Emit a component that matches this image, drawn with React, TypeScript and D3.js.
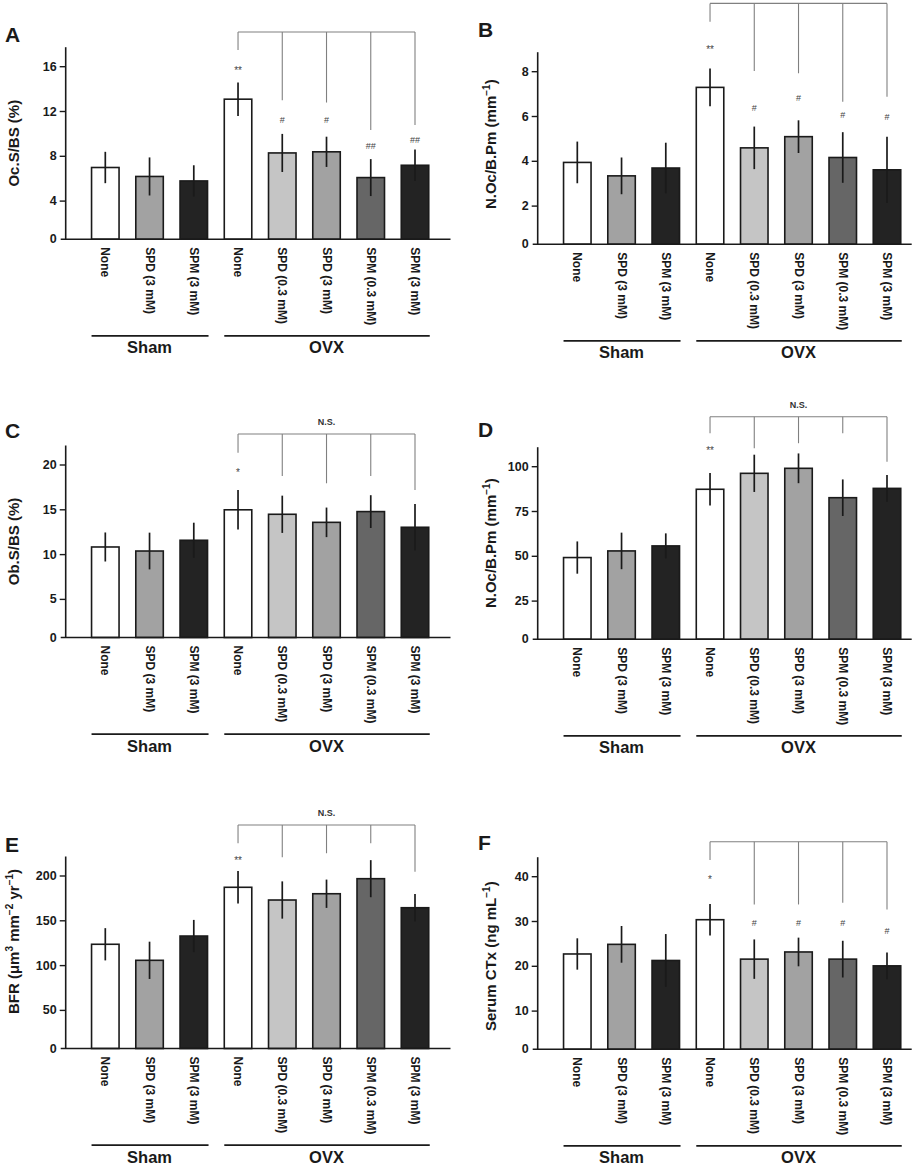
import React from "react";
import * as d3 from "d3";

// ---------- categories ----------
const treatments = ["None", "SPD (3 mM)", "SPM (3 mM)", "None", "SPD (0.3 mM)", "SPD (3 mM)", "SPM (0.3 mM)", "SPM (3 mM)"];
const categoryIds = ["sham-none", "sham-spd3", "sham-spm3", "ovx-none", "ovx-spd03", "ovx-spd3", "ovx-spm03", "ovx-spm3"];
const groupNames = ["Sham", "OVX"];
const groupMembers = [[0, 1, 2], [3, 4, 5, 6, 7]];

// ---------- A: Oc.S/BS ----------
const ocsValues = [7.0, 6.2, 5.8, 13.1, 8.3, 8.4, 6.1, 7.2];
const ocsErrors = [1.4, 1.7, 1.4, 1.5, 1.7, 1.35, 1.65, 1.4];
const ocsTicks = [0, 4, 8, 12, 16];
const ocsMarks = ["", "", "", "**", "#", "#", "##", "##"];
const ocsMarkLevels = [0, 0, 0, 15.9, 11.25, 11.25, 8.95, 9.45];
const ocsBracketTop = 19.1;
const ocsBracketEnds = [17.5, 13.0, 12.8, 10.35, 10.8];

// ---------- B: N.Oc/B.Pm ----------
const nocValues = [3.95, 3.35, 3.7, 7.3, 4.6, 5.1, 4.17, 3.62];
const nocErrors = [0.93, 0.82, 1.13, 0.84, 0.95, 0.73, 1.13, 1.48];
const nocTicks = [0, 2, 4, 6, 8];
const nocMarks = ["", "", "", "**", "#", "#", "#", "#"];
const nocMarkLevels = [0, 0, 0, 9.12, 6.39, 6.84, 6.07, 5.99];
const nocBracketTop = 11.05;
const nocBracketEnds = [10.23, 8.03, 7.93, 6.66, 6.88];

// ---------- C: Ob.S/BS ----------
const obsValues = [10.85, 10.4, 11.6, 15.0, 14.5, 13.6, 14.8, 13.05];
const obsErrors = [1.62, 2.05, 1.96, 2.2, 2.08, 1.65, 1.83, 2.6];
const obsTicks = [0, 5, 10, 15, 20];
const obsMarks = ["", "", "", "*", "", "", "", ""];
const obsMarkLevels = [0, 0, 0, 19.44, 0, 0, 0, 0];
const obsBracketTop = 23.46;
const obsBracketEnds = [21.37, 18.77, 17.96, 18.77, 17.21];

// ---------- D: N.Oc/B.Pm (osteoblast panel) ----------
const nobValues = [49.3, 53.0, 55.8, 87.4, 96.3, 99.1, 82.7, 87.9];
const nobErrors = [9.0, 10.2, 7.0, 9.1, 10.4, 8.3, 10.2, 7.5];
const nobTicks = [0, 25, 50, 75, 100];
const nobMarks = ["", "", "", "**", "", "", "", ""];
const nobMarkLevels = [0, 0, 0, 110.6, 0, 0, 0, 0];
const nobBracketTop = 127.9;
const nobBracketEnds = [118.6, 110.3, 113.1, 118.6, 102.8];

// ---------- E: BFR ----------
const bfrValues = [123.8, 105.9, 133.0, 187.4, 173.2, 180.2, 197.0, 164.6];
const bfrErrors = [18, 20.8, 18, 18.2, 20.8, 15.8, 20.7, 15.3];
const bfrTicks = [0, 50, 100, 150, 200];
const bfrMarks = ["", "", "", "**", "", "", "", ""];
const bfrMarkLevels = [0, 0, 0, 220.4, 0, 0, 0, 0];
const bfrBracketTop = 257;
const bfrBracketEnds = [236.5, 220.9, 225.4, 236.5, 204.8];

// ---------- F: Serum CTx ----------
const ctxValues = [22.75, 24.9, 21.3, 30.4, 21.6, 23.2, 21.6, 20.1];
const ctxErrors = [3.5, 4.1, 5.9, 3.5, 4.4, 3.2, 4.1, 3.0];
const ctxTicks = [0, 10, 20, 30, 40];
const ctxMarks = ["", "", "", "*", "#", "#", "#", "#"];
const ctxMarkLevels = [0, 0, 0, 39.9, 29.7, 29.7, 29.7, 27.9];
const ctxBracketTop = 47.8;
const ctxBracketEnds = [43.7, 33.8, 33.8, 34.2, 32.7];

// ---------- styles ----------
const barFills = ["#ffffff", "#a2a2a2", "#232323", "#ffffff", "#c5c5c5", "#a2a2a2", "#666666", "#232323"];
const FONT = "'Liberation Sans', Arial, Helvetica, sans-serif";
const INK = "#1a1a1a";

type TitlePart = { t: string; sup?: boolean };

type PanelSpec = {
  letter: string;
  title: TitlePart[];
  values: number[];
  errors: number[];
  ticks: number[];
  marks: string[];
  markLevels: number[];
  bracketTop: number;
  bracketEnds: number[];
  ns: boolean;
  // layout
  col: number;
  topTickY: number;
  letterY: number;
  titleShift: number;
};

const panels: PanelSpec[] = [
  { letter: "A", title: [{ t: "Oc.S/BS (%)" }], values: ocsValues, errors: ocsErrors, ticks: ocsTicks, marks: ocsMarks, markLevels: ocsMarkLevels, bracketTop: ocsBracketTop, bracketEnds: ocsBracketEnds, ns: false, col: 0, topTickY: 66.7, letterY: 42, titleShift: 0 },
  { letter: "B", title: [{ t: "N.Oc/B.Pm (mm" }, { t: "−1", sup: true }, { t: ")" }], values: nocValues, errors: nocErrors, ticks: nocTicks, marks: nocMarks, markLevels: nocMarkLevels, bracketTop: nocBracketTop, bracketEnds: nocBracketEnds, ns: false, col: 1, topTickY: 71.7, letterY: 37, titleShift: -4 },
  { letter: "C", title: [{ t: "Ob.S/BS (%)" }], values: obsValues, errors: obsErrors, ticks: obsTicks, marks: obsMarks, markLevels: obsMarkLevels, bracketTop: obsBracketTop, bracketEnds: obsBracketEnds, ns: true, col: 0, topTickY: 465, letterY: 438, titleShift: 0 },
  { letter: "D", title: [{ t: "N.Oc/B.Pm (mm" }, { t: "−1", sup: true }, { t: ")" }], values: nobValues, errors: nobErrors, ticks: nobTicks, marks: nobMarks, markLevels: nobMarkLevels, bracketTop: nobBracketTop, bracketEnds: nobBracketEnds, ns: true, col: 1, topTickY: 466.7, letterY: 437, titleShift: 0 },
  { letter: "E", title: [{ t: "BFR (μm" }, { t: "3", sup: true }, { t: " mm" }, { t: "−2", sup: true }, { t: " yr" }, { t: "−1", sup: true }, { t: ")" }], values: bfrValues, errors: bfrErrors, ticks: bfrTicks, marks: bfrMarks, markLevels: bfrMarkLevels, bracketTop: bfrBracketTop, bracketEnds: bfrBracketEnds, ns: true, col: 0, topTickY: 876, letterY: 852, titleShift: -11 },
  { letter: "F", title: [{ t: "Serum CTx (ng mL" }, { t: "−1", sup: true }, { t: ")" }], values: ctxValues, errors: ctxErrors, ticks: ctxTicks, marks: ctxMarks, markLevels: ctxMarkLevels, bracketTop: ctxBracketTop, bracketEnds: ctxBracketEnds, ns: false, col: 1, topTickY: 876.7, letterY: 850, titleShift: 3 },
];

const colLayout = [
  { axisX: 65.7, axisEnd: 450.5, letterX: 5, titleX: 18.5 },
  { axisX: 537.7, axisEnd: 911.7, letterX: 478, titleX: 495.5 },
];

const TICK_GAP = 44.8; // px between ticks
const BASE_OFFSET = 172.5; // top tick -> axis line
const BAR_W = 27.5;

function Panel({ p }: { p: PanelSpec }) {
  const c = colLayout[p.col];
  const topVal = p.ticks[p.ticks.length - 1];
  const y = d3.scaleLinear().domain([0, topVal]).range([p.topTickY + TICK_GAP * (p.ticks.length - 1), p.topTickY]);
  const baseY = p.topTickY + BASE_OFFSET;
  const axisTop = p.topTickY - 19.5;
  const x = d3.scalePoint<string>().domain(categoryIds).range([c.axisX + 39.6, c.axisX + 349.3]);
  const cx = (i: number) => x(categoryIds[i]) as number;

  const bracketIdx = [3, 4, 5, 6, 7];
  const bTopY = y(p.bracketTop);

  const titleCenterY = (axisTop + baseY) / 2 + p.titleShift;

  return (
    <g>
      {/* panel letter */}
      <text x={c.letterX} y={p.letterY} fontSize={21} fontWeight="bold" fill={INK}>{p.letter}</text>

      {/* y title */}
      <text transform={`translate(${c.titleX},${titleCenterY}) rotate(-90)`} textAnchor="middle" fontSize={15} fontWeight="bold" fill={INK}>
        {p.title.map((part, k) => {
          const prevSup = k > 0 && p.title[k - 1].sup;
          if (part.sup) return <tspan key={k} fontSize={10} dy={-6}>{part.t}</tspan>;
          return <tspan key={k} dy={prevSup ? 6 : 0}>{part.t}</tspan>;
        })}
      </text>

      {/* bars */}
      {p.values.map((v, i) => (
        <rect key={"b" + i} x={cx(i) - BAR_W / 2} y={y(v)} width={BAR_W} height={baseY - y(v)} fill={barFills[i]} stroke={INK} strokeWidth={1.6} />
      ))}
      {/* error bars */}
      {p.values.map((v, i) => (
        <line key={"e" + i} x1={cx(i)} x2={cx(i)} y1={y(v + p.errors[i])} y2={Math.min(baseY, y(v - p.errors[i]))} stroke={INK} strokeWidth={1.7} />
      ))}

      {/* axes */}
      <line x1={c.axisX} x2={c.axisX} y1={axisTop} y2={baseY} stroke={INK} strokeWidth={1.6} />
      <line x1={c.axisX - 5} x2={c.axisEnd} y1={baseY} y2={baseY} stroke={INK} strokeWidth={1.6} />
      {p.ticks.map((t, k) => {
        const ty = t === 0 ? baseY : y(t);
        return (
          <g key={"t" + k}>
            {t !== 0 && <line x1={c.axisX - 6} x2={c.axisX} y1={ty} y2={ty} stroke={INK} strokeWidth={1.4} />}
            <text x={c.axisX - 9} y={ty} textAnchor="end" dominantBaseline="central" fontSize={12.5} fontWeight="bold" fill={INK}>{t}</text>
          </g>
        );
      })}

      {/* category labels */}
      {treatments.map((t, i) => (
        <text key={"l" + i} transform={`translate(${cx(i)},${baseY + 8}) rotate(90)`} dominantBaseline="central" fontSize={12} fontWeight="bold" fill={INK}>{t}</text>
      ))}

      {/* group lines */}
      {groupMembers.map((m, g) => {
        const x0 = cx(m[0]) - BAR_W / 2;
        const x1 = cx(m[m.length - 1]) + BAR_W / 2 + 1;
        const ly = baseY + 96.7;
        return (
          <g key={"g" + g}>
            <line x1={x0} x2={x1} y1={ly} y2={ly} stroke={INK} strokeWidth={1.8} />
            <text x={(cx(m[0]) + cx(m[m.length - 1])) / 2} y={ly + 17.5} textAnchor="middle" fontSize={16.5} fontWeight="bold" fill={INK}>{groupNames[g]}</text>
          </g>
        );
      })}

      {/* comparison bracket */}
      <line x1={cx(3)} x2={cx(7)} y1={bTopY} y2={bTopY} stroke="#808080" strokeWidth={1.1} />
      {bracketIdx.map((bi, k) => (
        <line key={"k" + k} x1={cx(bi)} x2={cx(bi)} y1={bTopY} y2={y(p.bracketEnds[k])} stroke="#808080" strokeWidth={1.1} />
      ))}
      {p.ns && (
        <text x={(cx(3) + cx(7)) / 2} y={bTopY - 11.5} textAnchor="middle" dominantBaseline="central" fontSize={9} fontWeight="bold" fill="#333">N.S.</text>
      )}

      {/* significance marks */}
      {p.marks.map((m, i) => m ? (
        <text key={"m" + i} x={cx(i)} y={y(p.markLevels[i]) + (m.includes("*") ? 2.5 : 0)} textAnchor="middle" dominantBaseline="central" fontSize={m.includes("*") ? 10 : 9} fill="#444">{m}</text>
      ) : null)}
    </g>
  );
}

export default function App() {
  return (
    <svg width={922} height={1168} style={{ position: "absolute", left: 0, top: 0, background: "#fff" }} fontFamily={FONT}>
      <rect x={0} y={0} width={922} height={1168} fill="#fff" />
      {panels.map((p) => <Panel key={p.letter} p={p} />)}
    </svg>
  );
}
